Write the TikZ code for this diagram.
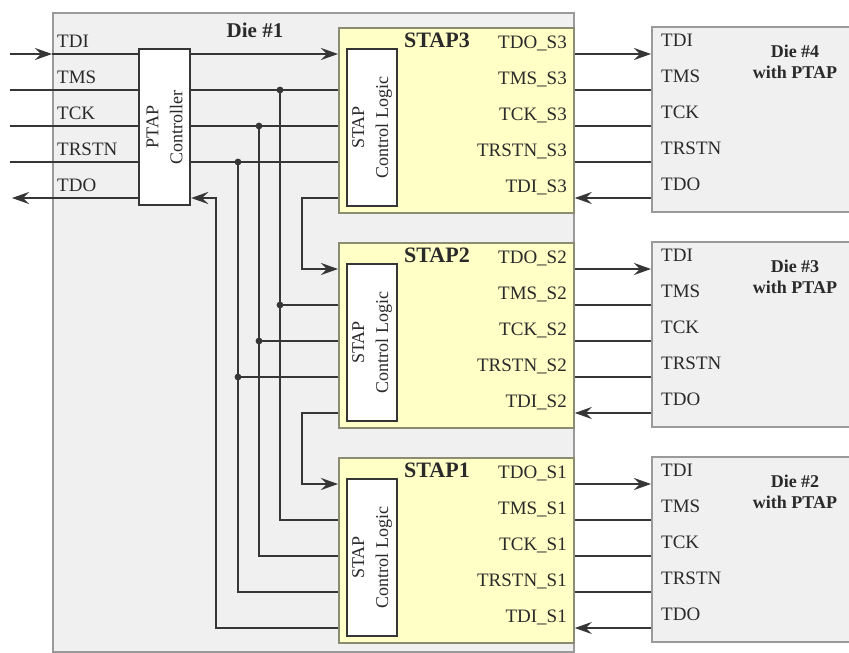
\documentclass[tikz,border=0pt]{standalone}
\usepackage{fontspec}
\setmainfont{Liberation Serif}
\usetikzlibrary{positioning,arrows.meta,calc}
\definecolor{WireDark}{HTML}{363636}
\definecolor{TextDark}{HTML}{2A2A2A}
\definecolor{DieGrey}{HTML}{F0F0F0}
\definecolor{DieEdge}{HTML}{9A9A9A}
\definecolor{StapYellow}{HTML}{FFFFC6}
\definecolor{StapEdge}{HTML}{8C8C72}

\begin{document}
\begin{tikzpicture}[x=1pt,y=-1pt,
    every node/.style={font=\fontsize{19}{21}\selectfont, text=TextDark, inner sep=0pt},
    wire/.style={draw=WireDark, line width=2.2pt},
    tip/.style={-{Stealth[length=17pt,width=12pt,inset=6pt]}},
    outerdie/.style={draw=DieEdge, fill=DieGrey, line width=1.8pt, anchor=north west,
      minimum width=521pt, minimum height=639pt},
    diebox/.style={draw=DieEdge, fill=DieGrey, line width=1.8pt, anchor=north west,
      minimum width=215pt, minimum height=185pt},
    stapbox/.style={draw=StapEdge, fill=StapYellow, line width=1.8pt, anchor=north west,
      minimum width=235pt, minimum height=185pt},
    logicbox/.style={draw=WireDark, fill=white, line width=2.2pt, anchor=north west,
      minimum width=50pt, minimum height=157pt},
    boldlabel/.style={font=\fontsize{#1}{21}\selectfont\bfseries}
  ]
  \useasboundingbox (0,0) rectangle (849,653);

  % die #1 with the PTAP controller
  \node[outerdie] (die1) at (52,12) {};
  \node[boldlabel=21] (die1title) at (255,30) {Die \#1};
  \node[logicbox, minimum width=51pt, minimum height=156pt] (ptap) at (138,48) {};
  \node[rotate=90, align=center, font=\fontsize{18}{24}\selectfont] (ptaptext) at (ptap.center)
    {PTAP\\Controller};

  % the three STAPs and the stacked dies
  \foreach \n/\m/\b in {3/4/54, 2/3/269, 1/2/484}{
    \foreach \i in {0,...,4}{
      \coordinate (row\n\i) at (0,\b+36*\i);
    }
    \node[stapbox] (stap\n) at (338,\b-27) {};
    \node[logicbox] (logic\n) at (346,\b-6) {};
    \node[rotate=90, align=center, font=\fontsize{18}{24}\selectfont] (logictext\n)
      at (logic\n.center) {STAP\\Control Logic};
    \node[boldlabel=22] (title\n) at (437,\b-14) {STAP\n};
    \foreach \p/\i in {TDO/0,TMS/1,TCK/2,TRSTN/3,TDI/4}{
      \node[anchor=base east] (sp\n\i) at (567,\b+36*\i-6) {\p\_S\n};
    }
    \node[diebox] (die\m) at (651,\b-28) {};
    \node[boldlabel=18, align=center] (dietitle\m) at (795,\b+8) {Die \#\m\\with PTAP};
    \foreach \p/\i in {TDI/0,TMS/1,TCK/2,TRSTN/3,TDO/4}{
      \node[anchor=base west] (dp\m\i) at (661,\b+36*\i-8) {\p};
    }
    % STAP to die
    \draw[wire,tip] (row\n0 -| stap\n.east) -- (row\n0 -| die\m.west);
    \foreach \i in {1,2,3}{
      \draw[wire] (row\n\i -| stap\n.east) -- (row\n\i -| die\m.west);
    }
    \draw[wire,tip] (row\n4 -| die\m.west) -- (row\n4 -| stap\n.east);
  }

  % package pins
  \foreach \s/\i in {TDI/0,TMS/1,TCK/2,TRSTN/3,TDO/4}{
    \node[anchor=base west] (pinlabel\i) at (57,54+36*\i-7) {\s};
    \coordinate (pin\i) at (10,54+36*\i);
  }
  \coordinate (pinout) at (12,198);
  \draw[wire,tip] (pin0) -- (row30 -| die1.west);
  \draw[wire] (row30 -| die1.west) -- (row30 -| ptap.west);
  \foreach \i in {1,2,3}{
    \draw[wire] (pin\i) -- (row3\i -| ptap.west);
  }
  \draw[wire,tip] (row34 -| ptap.west) -- (pinout);

  % PTAP to STAP3
  \draw[wire,tip] (row30 -| ptap.east) -- (row30 -| stap3.west);
  \foreach \i in {1,2,3}{
    \draw[wire] (row3\i -| ptap.east) -- (row3\i -| stap3.west);
  }

  % TMS, TCK, TRSTN shared by all STAPs
  \foreach \i/\bx in {1/280, 2/259, 3/238}{
    \coordinate (bus\i) at (\bx,0);
    \draw[wire] (bus\i |- row3\i) -- (bus\i |- row1\i) -- (row1\i -| stap1.west);
    \draw[wire] (bus\i |- row2\i) -- (row2\i -| stap2.west);
    \fill[WireDark] (bus\i |- row3\i) circle (3.4pt) (bus\i |- row2\i) circle (3.4pt);
  }

  % TDI chain STAP3 -> STAP2 -> STAP1 -> PTAP
  \coordinate (chain) at (302,0);
  \coordinate (back) at (216,0);
  \draw[wire,tip] (row34 -| stap3.west) -- (chain |- row34) -- (chain |- row20) -- (row20 -| stap2.west);
  \draw[wire,tip] (row24 -| stap2.west) -- (chain |- row24) -- (chain |- row10) -- (row10 -| stap1.west);
  \draw[wire,tip] (row14 -| stap1.west) -- (back |- row14) -- (back |- row34) -- (row34 -| ptap.east);
\end{tikzpicture}
\end{document}
